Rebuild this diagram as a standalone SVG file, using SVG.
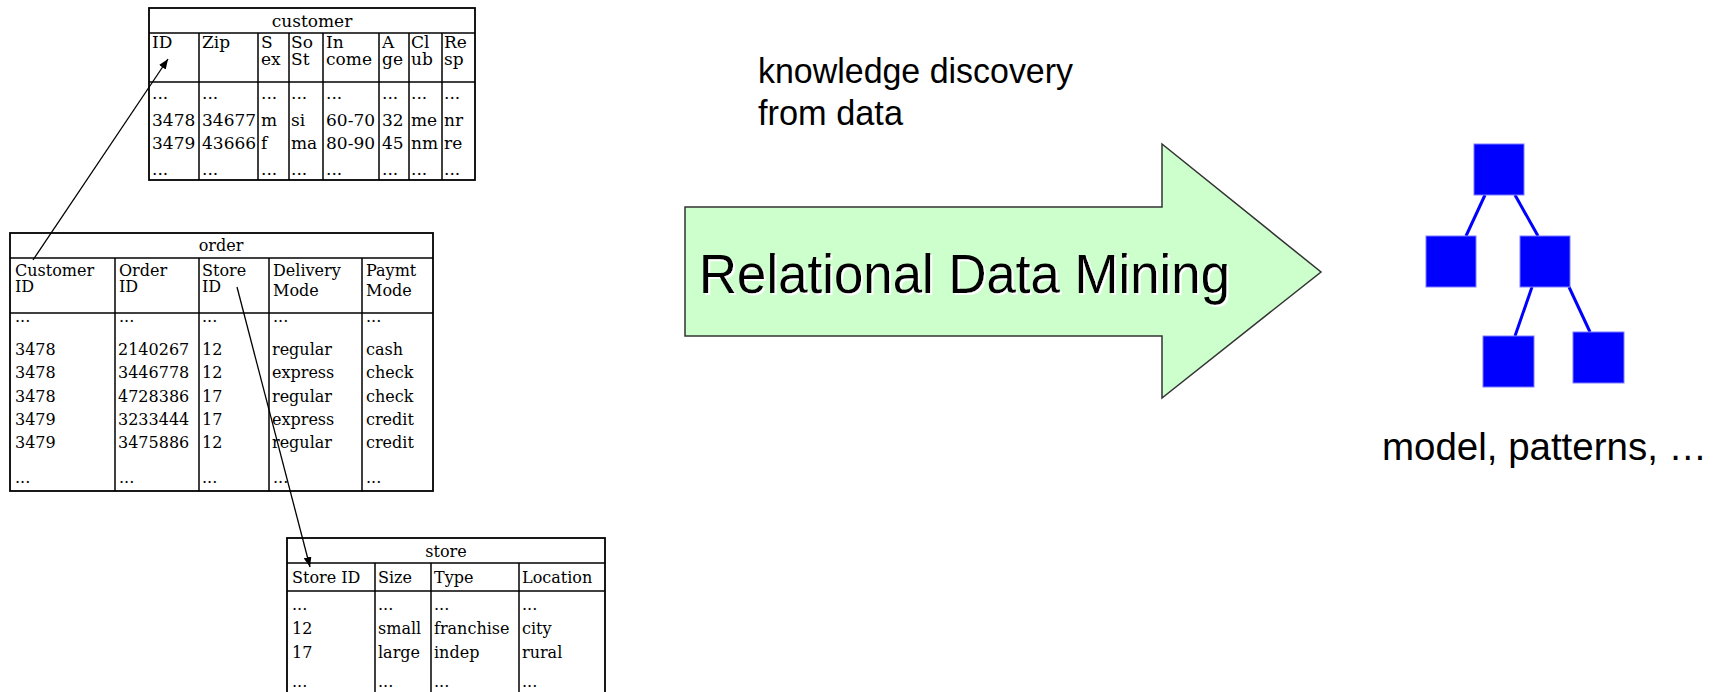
<svg xmlns="http://www.w3.org/2000/svg" width="1722" height="692" viewBox="0 0 1722 692">
<defs>
<style>
.tbl{fill:none;stroke:#000;stroke-width:1.8}
.ln{stroke:#000;stroke-width:1.5}
.t17{font-family:"DejaVu Serif","Liberation Serif",serif;font-size:17px;fill:#000}
.t16{font-family:"DejaVu Serif","Liberation Serif",serif;font-size:16px;fill:#000}
.mid{text-anchor:middle}
.sans{font-family:"Liberation Sans",Arial,sans-serif;fill:#000}
.conn{stroke:#000;stroke-width:1.3;fill:none}
.leaf{fill:#0000ff;stroke:#7a7aff;stroke-width:1}
.edge{stroke:#0000ff;stroke-width:3}
</style>
<marker id="ah" viewBox="0 0 10 8" refX="10" refY="4" markerWidth="10" markerHeight="8" markerUnits="userSpaceOnUse" orient="auto">
<path d="M0,0 L10,4 L0,8 z" fill="#000"/>
</marker>
<filter id="shadow" x="-5%" y="-20%" width="110%" height="140%">
<feDropShadow dx="2" dy="2" stdDeviation="0" flood-color="#ffffff" flood-opacity="1"/>
</filter>
</defs>
<rect width="1722" height="692" fill="#fff"/>

<g id="customer">
<rect class="tbl" x="149" y="8" width="326" height="172"/>
<line class="ln" x1="149" y1="33" x2="475" y2="33"/>
<line class="ln" x1="149" y1="82" x2="475" y2="82"/>
<line class="ln" x1="199" y1="33" x2="199" y2="180"/>
<line class="ln" x1="258" y1="33" x2="258" y2="180"/>
<line class="ln" x1="289" y1="33" x2="289" y2="180"/>
<line class="ln" x1="323" y1="33" x2="323" y2="180"/>
<line class="ln" x1="379" y1="33" x2="379" y2="180"/>
<line class="ln" x1="409" y1="33" x2="409" y2="180"/>
<line class="ln" x1="442" y1="33" x2="442" y2="180"/>
<text class="t17 mid" x="312" y="27">customer</text>
<g class="t17">
<text x="152" y="48">ID</text><text x="202" y="48">Zip</text><text x="261" y="48">S</text><text x="291" y="48">So</text><text x="326" y="48">In</text><text x="382" y="48">A</text><text x="411" y="48">Cl</text><text x="444" y="48">Re</text>
<text x="261" y="65">ex</text><text x="291" y="65">St</text><text x="326" y="65">come</text><text x="382" y="65">ge</text><text x="411" y="65">ub</text><text x="444" y="65">sp</text>
<text x="152" y="99">...</text><text x="202" y="99">...</text><text x="261" y="99">...</text><text x="291" y="99">...</text><text x="326" y="99">...</text><text x="382" y="99">...</text><text x="411" y="99">...</text><text x="444" y="99">...</text>
<text x="152" y="126">3478</text><text x="202" y="126">34677</text><text x="261" y="126">m</text><text x="291" y="126">si</text><text x="326" y="126">60-70</text><text x="382" y="126">32</text><text x="411" y="126">me</text><text x="444" y="126">nr</text>
<text x="152" y="149">3479</text><text x="202" y="149">43666</text><text x="261" y="149">f</text><text x="291" y="149">ma</text><text x="326" y="149">80-90</text><text x="382" y="149">45</text><text x="411" y="149">nm</text><text x="444" y="149">re</text>
<text x="152" y="175">...</text><text x="202" y="175">...</text><text x="261" y="175">...</text><text x="291" y="175">...</text><text x="326" y="175">...</text><text x="382" y="175">...</text><text x="411" y="175">...</text><text x="444" y="175">...</text>
</g>
</g>

<g id="order">
<rect class="tbl" x="10" y="233" width="423" height="258"/>
<line class="ln" x1="10" y1="258" x2="433" y2="258"/>
<line class="ln" x1="10" y1="313" x2="433" y2="313"/>
<line class="ln" x1="115" y1="258" x2="115" y2="491"/>
<line class="ln" x1="199" y1="258" x2="199" y2="491"/>
<line class="ln" x1="269" y1="258" x2="269" y2="491"/>
<line class="ln" x1="362" y1="258" x2="362" y2="491"/>
<text class="t16 mid" x="221" y="251">order</text>
<g class="t16">
<text x="15" y="276">Customer</text><text x="119" y="276">Order</text><text x="202" y="276">Store</text><text x="273" y="276">Delivery</text><text x="366" y="276">Paymt</text>
<text x="15" y="292">ID</text><text x="119" y="292">ID</text><text x="202" y="292">ID</text><text x="273" y="296">Mode</text><text x="366" y="296">Mode</text>
<text x="15" y="322">...</text><text x="119" y="322">...</text><text x="202" y="322">...</text><text x="273" y="322">...</text><text x="366" y="322">...</text>
<text x="15" y="355">3478</text><text x="118" y="355">2140267</text><text x="202" y="355">12</text><text x="272" y="355">regular</text><text x="366" y="355">cash</text>
<text x="15" y="378">3478</text><text x="118" y="378">3446778</text><text x="202" y="378">12</text><text x="272" y="378">express</text><text x="366" y="378">check</text>
<text x="15" y="402">3478</text><text x="118" y="402">4728386</text><text x="202" y="402">17</text><text x="272" y="402">regular</text><text x="366" y="402">check</text>
<text x="15" y="425">3479</text><text x="118" y="425">3233444</text><text x="202" y="425">17</text><text x="272" y="425">express</text><text x="366" y="425">credit</text>
<text x="15" y="448">3479</text><text x="118" y="448">3475886</text><text x="202" y="448">12</text><text x="272" y="448">regular</text><text x="366" y="448">credit</text>
<text x="15" y="483">...</text><text x="119" y="483">...</text><text x="202" y="483">...</text><text x="273" y="483">...</text><text x="366" y="483">...</text>
</g>
</g>

<g id="store">
<rect class="tbl" x="287" y="538" width="318" height="170"/>
<line class="ln" x1="287" y1="563" x2="605" y2="563"/>
<line class="ln" x1="287" y1="591" x2="605" y2="591"/>
<line class="ln" x1="375" y1="563" x2="375" y2="700"/>
<line class="ln" x1="431" y1="563" x2="431" y2="700"/>
<line class="ln" x1="519" y1="563" x2="519" y2="700"/>
<text class="t16 mid" x="446" y="557">store</text>
<g class="t16">
<text x="292" y="583">Store ID</text><text x="378" y="583">Size</text><text x="434" y="583">Type</text><text x="522" y="583">Location</text>
<text x="292" y="610">...</text><text x="378" y="610">...</text><text x="434" y="610">...</text><text x="522" y="610">...</text>
<text x="292" y="634">12</text><text x="378" y="634">small</text><text x="434" y="634">franchise</text><text x="522" y="634">city</text>
<text x="292" y="658">17</text><text x="378" y="658">large</text><text x="434" y="658">indep</text><text x="522" y="658">rural</text>
<text x="292" y="687">...</text><text x="378" y="687">...</text><text x="434" y="687">...</text><text x="522" y="687">...</text>
</g>
</g>

<g id="connectors">
<line class="conn" x1="33" y1="260" x2="168" y2="59" marker-end="url(#ah)"/>
<line class="conn" x1="237" y1="287" x2="310" y2="567" marker-end="url(#ah)"/>
</g>

<g id="label-kdd">
<text class="sans" x="758" y="83" font-size="35" textLength="315" lengthAdjust="spacingAndGlyphs">knowledge discovery</text>
<text class="sans" x="758" y="125" font-size="35" textLength="145" lengthAdjust="spacingAndGlyphs">from data</text>
</g>

<g id="rdm-arrow">
<polygon points="685,207 1162,207 1162,144 1321,272 1162,398 1162,336 685,336" fill="#ccffcc" stroke="#333" stroke-width="1.5"/>
<text class="sans" x="699" y="293" font-size="56" textLength="531" lengthAdjust="spacingAndGlyphs" filter="url(#shadow)">Relational Data Mining</text>
</g>

<g id="tree">
<line class="edge" x1="1485" y1="195" x2="1466" y2="236"/>
<line class="edge" x1="1515" y1="195" x2="1538" y2="236"/>
<line class="edge" x1="1532" y1="287" x2="1515" y2="336"/>
<line class="edge" x1="1569" y1="287" x2="1590" y2="332"/>
<rect class="leaf" x="1474" y="144" width="50" height="51"/>
<rect class="leaf" x="1426" y="236" width="50" height="51"/>
<rect class="leaf" x="1520" y="236" width="50" height="51"/>
<rect class="leaf" x="1483" y="336" width="51" height="51"/>
<rect class="leaf" x="1573" y="332" width="51" height="51"/>
</g>

<g id="label-model">
<text class="sans" x="1382" y="460" font-size="38" textLength="325" lengthAdjust="spacingAndGlyphs">model, patterns, …</text>
</g>
</svg>
